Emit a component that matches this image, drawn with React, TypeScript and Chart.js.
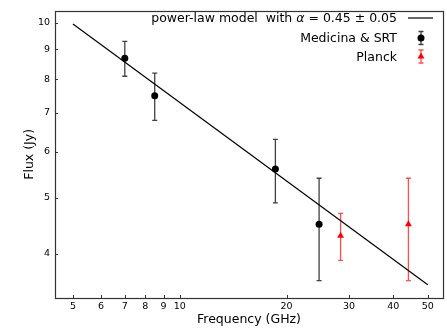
import React, { useEffect, useRef } from "react";
import { Chart, registerables } from "chart.js";

Chart.register(...registerables);

// ---- data ----
const medFreq = [7.0, 8.5, 18.6, 24.7];
const medFlux = [8.69, 7.49, 5.6, 4.5];
const medErr = [0.6, 0.7, 0.7, 0.9];

const planckFreq = [28.4, 44.1];
const planckFlux = [4.3, 4.5];
const planckErr = [0.4, 0.9];

const modelFreq = [5, 50];
const modelFlux = [9.95, 3.54];

const xTicks = [5, 6, 7, 8, 9, 10, 20, 30, 40, 50];
const yTicks = [4, 5, 6, 7, 8, 9, 10];

const xRange = [4.45, 55.2];
const yRange = [3.36, 10.49];

const legendLabels = ["power-law model  with ", "α", " = 0.45 ± 0.05", "Medicina & SRT", "Planck"];

const FONT = "'DejaVu Sans', sans-serif";
const RED = "#ff0000";

const errorBarPlugin = {
  id: "errorBars",
  beforeDatasetsDraw(chart: any) {
    const { ctx } = chart;
    const xs = chart.scales.x;
    const ys = chart.scales.y;
    const draw = (fr: number[], fl: number[], er: number[], color: string) => {
      ctx.save();
      ctx.strokeStyle = color;
      ctx.lineWidth = 1.3;
      for (let i = 0; i < fr.length; i++) {
        const x = xs.getPixelForValue(fr[i]);
        const y1 = ys.getPixelForValue(fl[i] + er[i]);
        const y2 = ys.getPixelForValue(fl[i] - er[i]);
        ctx.beginPath();
        ctx.moveTo(x, y1);
        ctx.lineTo(x, y2);
        ctx.moveTo(x - 2.5, y1);
        ctx.lineTo(x + 2.5, y1);
        ctx.moveTo(x - 2.5, y2);
        ctx.lineTo(x + 2.5, y2);
        ctx.stroke();
      }
      ctx.restore();
    };
    draw(medFreq, medFlux, medErr, "rgba(0,0,0,0.75)");
    draw(planckFreq, planckFlux, planckErr, "rgba(255,0,0,0.7)");
  },
};

const framePlugin = {
  id: "frame",
  afterDraw(chart: any) {
    const { ctx, chartArea } = chart;
    const { left, right, top, bottom } = chartArea;
    const xs = chart.scales.x;
    const ys = chart.scales.y;
    ctx.save();
    ctx.strokeStyle = "#333";
    ctx.lineWidth = 1;
    // inward ticks
    ctx.beginPath();
    xs.ticks.forEach((t: any) => {
      const x = Math.round(xs.getPixelForValue(t.value)) + 0.5;
      ctx.moveTo(x, bottom);
      ctx.lineTo(x, bottom - 3);
    });
    ys.ticks.forEach((t: any) => {
      const y = Math.round(ys.getPixelForValue(t.value)) + 0.5;
      ctx.moveTo(left, y);
      ctx.lineTo(left + 3, y);
    });
    ctx.stroke();
    ctx.lineWidth = 1.2;
    ctx.strokeRect(Math.round(left) + 0.5, Math.round(top) + 0.5, Math.round(right - left), Math.round(bottom - top));
    ctx.restore();

    // legend
    ctx.save();
    ctx.fillStyle = "#000";
    ctx.textBaseline = "middle";
    const textRight = 397;
    const fs = 12.5;
    const normal = `${fs}px ${FONT}`;
    const italic = `italic ${fs}px ${FONT}`;
    ctx.font = normal;
    const w1 = ctx.measureText(legendLabels[0]).width;
    const w3 = ctx.measureText(legendLabels[2]).width;
    ctx.font = italic;
    const w2 = ctx.measureText(legendLabels[1]).width;
    const x0 = textRight - (w1 + w2 + w3);
    const y0 = 18.5;
    ctx.textAlign = "left";
    ctx.font = normal;
    ctx.fillText(legendLabels[0], x0, y0);
    ctx.font = italic;
    ctx.fillText(legendLabels[1], x0 + w1, y0);
    ctx.font = normal;
    ctx.fillText(legendLabels[2], x0 + w1 + w2, y0);
    ctx.textAlign = "right";
    ctx.fillText(legendLabels[3], textRight, 39);
    ctx.fillText(legendLabels[4], textRight, 57.5);

    // handles
    ctx.strokeStyle = "#000";
    ctx.lineWidth = 1.2;
    ctx.beginPath();
    ctx.moveTo(408, 18);
    ctx.lineTo(433, 18);
    ctx.stroke();

    const mx = 421;
    const eb = (y: number, h: number, color: string) => {
      ctx.strokeStyle = color;
      ctx.lineWidth = 1.3;
      ctx.beginPath();
      ctx.moveTo(mx, y - h);
      ctx.lineTo(mx, y + h);
      ctx.moveTo(mx - 2.5, y - h);
      ctx.lineTo(mx + 2.5, y - h);
      ctx.moveTo(mx - 2.5, y + h);
      ctx.lineTo(mx + 2.5, y + h);
      ctx.stroke();
    };
    eb(38, 6.5, "rgba(0,0,0,0.75)");
    ctx.fillStyle = "#000";
    ctx.beginPath();
    ctx.arc(mx, 38, 3.5, 0, Math.PI * 2);
    ctx.fill();
    eb(56.5, 6.5, "rgba(255,0,0,0.7)");
    ctx.fillStyle = RED;
    ctx.beginPath();
    ctx.moveTo(mx, 56.5 - 4);
    ctx.lineTo(mx + 3.5, 56.5 + 2);
    ctx.lineTo(mx - 3.5, 56.5 + 2);
    ctx.closePath();
    ctx.fill();
    ctx.restore();
  },
};

export default function App() {
  const ref = useRef<HTMLCanvasElement | null>(null);
  useEffect(() => {
    if (!ref.current) return;
    const chart = new Chart(ref.current, {
      type: "scatter",
      data: {
        datasets: [
          {
            type: "line",
            label: "model",
            data: modelFreq.map((f, i) => ({ x: f, y: modelFlux[i] })),
            borderColor: "#000",
            borderWidth: 1.2,
            pointRadius: 0,
            fill: false,
          },
          {
            label: "Medicina & SRT",
            data: medFreq.map((f, i) => ({ x: f, y: medFlux[i] })),
            backgroundColor: "#000",
            borderColor: "#000",
            pointRadius: 3.5,
            pointStyle: "circle",
            borderWidth: 0,
          },
          {
            label: "Planck",
            data: planckFreq.map((f, i) => ({ x: f, y: planckFlux[i] })),
            backgroundColor: RED,
            borderColor: RED,
            pointRadius: 4,
            pointStyle: "triangle",
            borderWidth: 0,
          },
        ],
      } as any,
      options: {
        animation: false,
        responsive: false,
        devicePixelRatio: 1,
        layout: { padding: { left: 0, right: 4, top: 2, bottom: 0 } },
        plugins: { legend: { display: false }, tooltip: { enabled: false } },
        scales: {
          x: {
            type: "logarithmic",
            position: "bottom",
            min: xRange[0],
            max: xRange[1],
            bounds: "data",
            grid: { display: false, drawTicks: false },
            border: { display: false },
            ticks: {
              font: { family: FONT, size: 9.5 },
              color: "#000",
              padding: 3,
              autoSkip: false,
              maxRotation: 0,
              callback: (v: any) => String(v),
            },
            title: {
              display: true,
              text: "Frequency (GHz)",
              font: { family: FONT, size: 12.5 },
              color: "#000",
              padding: { top: 0, bottom: 7.5 },
            },
            afterFit: (s: any) => {
              s.height = 37;
            },
            afterBuildTicks: (s: any) => {
              s.ticks = xTicks.map((v) => ({ value: v }));
            },
          },
          y: {
            type: "logarithmic",
            position: "left",
            min: yRange[0],
            max: yRange[1],
            bounds: "data",
            grid: { display: false, drawTicks: false },
            border: { display: false },
            ticks: {
              font: { family: FONT, size: 9.5 },
              color: "#000",
              padding: 5,
              autoSkip: false,
              callback: (v: any) => String(v),
            },
            title: {
              display: true,
              text: "Flux (Jy)",
              font: { family: FONT, size: 12.5 },
              color: "#000",
              padding: { top: 22.5, bottom: 0 },
            },
            afterFit: (s: any) => {
              s.width = 55;
            },
            afterBuildTicks: (s: any) => {
              s.ticks = yTicks.map((v) => ({ value: v }));
            },
          },
        },
      } as any,
      plugins: [errorBarPlugin, framePlugin],
    });
    return () => chart.destroy();
  }, []);
  return (
    <div style={{ position: "fixed", left: 0, top: 0, width: 447, height: 335 }}>
      <canvas ref={ref} width={447} height={335} style={{ width: 447, height: 335 }} />
    </div>
  );
}
